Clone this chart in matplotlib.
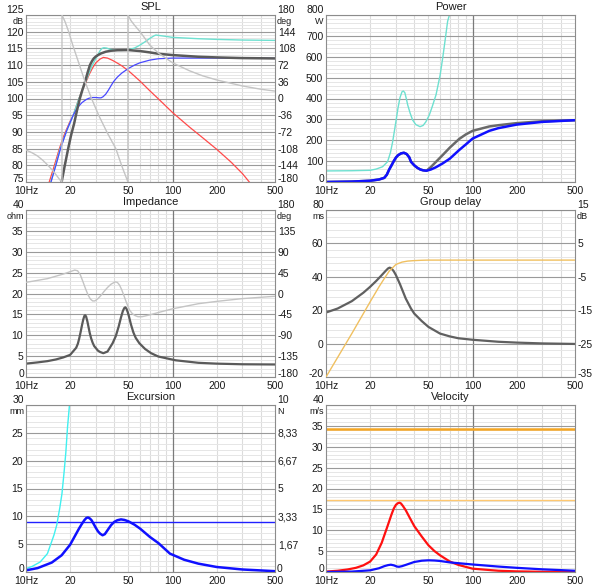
import numpy as np
import matplotlib.pyplot as plt

plt.rcParams['font.family'] = ['Liberation Sans', 'DejaVu Sans']
plt.rcParams['font.size'] = 7.5

# ------------------------------------------------------------
# DATA
# ------------------------------------------------------------

FREQ_TICKS = [10, 20, 50, 100, 200, 500]
FREQ_LABELS = ['10Hz', '20', '50', '100', '200', '500']

# SPL (dB)
spl_red_f = [14.4, 15.5, 16.9, 18, 19, 20, 21, 22, 23, 24, 25.7, 27, 28.5, 30, 32, 33.7,
             36, 39, 42, 45, 50, 55, 60, 70, 80, 100, 130, 160, 200, 250, 300, 334]
spl_red = [75, 79.5, 85, 88.5, 91, 93.2, 95, 97.6, 100, 102.2, 105, 107.2, 109.2, 110.7,
           111.8, 112.3, 112.1, 111.4, 110.6, 109.8, 108.3, 106.7, 105.2, 102.3, 99.9,
           95.8, 91.5, 88.3, 84.8, 81.0, 77.5, 75]

spl_cyan_f = [14.8, 17.1, 19, 21, 23, 25.5, 28, 30, 31, 32, 33, 34, 35.5, 37, 40, 45, 50,
              55, 60, 65, 70, 75, 77, 80, 90, 100, 150, 200, 300, 500]
spl_cyan = [75, 85, 90.5, 95, 100, 105, 109.5, 112, 113.2, 114.3, 115, 115.2, 115.1, 114.8,
            114.5, 114.4, 114.6, 115.1, 116, 117, 118, 118.8, 119, 118.9, 118.6, 118.3,
            117.9, 117.7, 117.5, 117.4]

spl_blue_f = [14.8, 16, 17.2, 19, 21, 22, 23, 24, 25, 26, 27, 28.5, 30, 31.5, 32.5, 33.5,
              35, 36.5, 38, 39.5, 42, 45, 50, 55, 60, 70, 80, 100, 150, 200, 500]
spl_blue = [75, 80, 85, 90.5, 95, 96.6, 97.8, 98.7, 99.3, 99.8, 100.1, 100.3, 100.3, 100.2,
            100.2, 100.5, 101.3, 102.5, 103.8, 105, 106.4, 107.6, 109, 110, 110.7, 111.5,
            111.9, 112.1, 112.1, 112.1, 112]

spl_gray_f = [17.5, 18.4, 19.4, 20.3, 21.3, 22.3, 23.3, 24.3, 25.3, 26.3, 27.3, 28.2, 29,
              30, 31, 32.5, 35, 38, 42, 50, 60, 70, 80, 100, 150, 200, 300, 500]
spl_gray = [75, 80, 85, 89, 92.5, 96.5, 100, 102.7, 105, 107.7, 110, 111.2, 112, 112.6,
            113, 113.5, 114, 114.3, 114.45, 114.5, 114.2, 113.8, 113.4, 113, 112.5, 112.3,
            112.1, 112]

# SPL phase (deg, right axis); the wraps are vertical jumps
spl_phase_f = [10, 11, 12, 13, 14, 15, 16, 17, 17.6, 17.6, 18.5, 19.5, 21, 23, 25.3, 28,
               31.3, 36, 41, 45, 49.6, 49.6, 52, 55, 60, 70, 80, 100, 130, 160, 200, 300,
               400, 500]
spl_phase = [-111, -117, -124, -133, -143, -153, -164, -175, -180, 180, 165, 145, 112, 75,
             36, 0, -36, -75, -108, -145, -180, 180, 168, 158, 144, 115, 98, 77, 60, 49,
             40, 27, 20, 16]

# Power (W)
pow_cyan_f = [10, 15, 20, 22, 24.3, 26.3, 27.5, 28.5, 29.3, 30, 31, 32, 33, 33.7, 34.5,
              35.3, 36.1, 37.5, 39, 41, 43.8, 46, 48, 50.7, 53, 56.3, 60, 62.5, 65, 67.6,
              69.5]
pow_cyan = [53, 54, 56, 62, 73, 97, 140, 193, 245, 290, 355, 405, 432, 436, 428, 400, 369,
            330, 297, 275, 265, 271, 288, 321, 360, 417, 510, 592, 680, 770, 800]

pow_gray_f = [10, 15, 20, 23, 25, 26, 27, 28, 29, 30, 31, 32.5, 34, 35.5, 37, 38, 40, 42,
              44, 46, 48.5, 52, 56, 62.5, 70, 81, 90, 100, 130, 150, 200, 300, 500]
pow_gray = [0, 2, 6, 12, 20, 35, 60, 80, 100, 117, 128, 137, 140, 134, 118, 97, 80, 68,
            60, 56, 54, 72, 95, 129, 165, 206, 228, 245, 266, 272, 282, 291, 296]

pow_blue_f = [10, 15, 20, 23, 25, 26, 27, 28, 29, 30, 31, 32.5, 34, 35.5, 37, 38, 40, 42,
              44, 46, 48.5, 52, 56, 62.5, 70, 81, 90, 100, 130, 150, 200, 300, 500]
pow_blue = [0, 2, 6, 12, 20, 35, 60, 80, 100, 117, 128, 137, 140, 134, 118, 97, 80, 68,
            60, 56, 54, 60, 70, 89, 112, 153, 180, 208, 245, 258, 275, 288, 296]

# Impedance (ohm) and phase (deg)
imp_f = [10, 12, 14, 16, 18, 20, 22, 22.6, 23.1, 23.6, 24.1, 24.6, 25.0, 25.3, 25.7, 26.2,
         26.7, 27.2, 27.8, 28.5, 29.2, 30, 31, 32, 33.7, 36, 39, 41, 42.9, 44.5, 45.8,
         46.8, 47.6, 48.4, 49.5, 50.5, 52, 54, 56, 59.3, 65, 71.4, 80, 105, 150, 200, 300,
         500]
imp_mag = [3.2, 3.5, 3.8, 4.2, 4.7, 5.3, 7.0, 8.0, 9.3, 10.8, 12.4, 13.8, 14.6, 14.8, 14.5,
           13.4, 12.0, 10.6, 9.3, 8.2, 7.4, 6.9, 6.3, 6.0, 5.7, 6.1, 8.1, 9.8, 12.1, 14.3,
           15.8, 16.5, 16.7, 16.4, 15.5, 14.4, 12.6, 10.7, 9.4, 8.1, 6.7, 5.7, 4.9, 4.0,
           3.4, 3.2, 3.05, 3.0]

imp_ph_f = [10, 14, 18, 20, 21.5, 22.5, 23.5, 24.5, 25.5, 26.5, 27.5, 28.5, 29.5, 31, 32.5,
            34, 36, 38, 40.5, 42, 43.5, 45, 46.5, 48, 49.5, 51, 53, 55, 58, 62, 70, 80, 100,
            150, 200, 300, 500]
imp_ph = [24, 32, 42, 47, 50.5, 49, 40, 25, 10, -3, -12, -16, -16, -11, -4, 4, 13, 20, 25,
          24, 18, 8, -4, -16, -27, -36, -43, -47, -50, -50, -46, -41, -33, -22, -17, -11,
          -6]

# Group delay (ms) and response (dB)
gd_f = [10, 12, 15, 18, 20, 22, 24, 25.5, 26.5, 27.2, 28, 29, 30, 32, 35, 38, 40, 45, 50,
        60, 70, 80, 100, 150, 200, 300, 500]
gd_ms = [18.6, 21, 25.4, 30.5, 34, 37.5, 41, 43.5, 45, 45.5, 45, 43.3, 41, 35.5, 27, 21,
         18, 13.5, 10, 6, 4.3, 3.2, 2.3, 1.1, 0.6, 0.1, -0.2]

resp_f = [10, 15, 20, 23, 25, 27, 30, 33, 36, 40, 45, 50, 70, 100, 500]
resp_db = [-35, -22, -12.5, -8, -5.5, -3.3, -1.3, -0.6, -0.3, -0.15, -0.05, 0, 0, 0, 0]

# Excursion (mm)
exc_blue_f = [10, 12, 15, 17.5, 20, 23, 24, 25, 25.8, 26.5, 27.3, 28, 29, 30, 31, 32,
              33.3, 34.5, 36, 38, 40, 42, 44.5, 47, 50, 55, 60, 70, 80, 96, 120, 150, 200,
              300, 500]
exc_blue = [0.3, 0.7, 1.7, 3.0, 4.9, 7.8, 8.6, 9.3, 9.7, 9.8, 9.6, 9.3, 8.6, 7.9, 7.3, 6.9,
            6.6, 6.8, 7.5, 8.4, 9.0, 9.3, 9.45, 9.35, 9.1, 8.5, 7.8, 6.3, 5.2, 3.3, 2.2,
            1.5, 0.9, 0.45, 0.15]

exc_cyan_f = [10, 11, 12.5, 14, 14.8, 15.5, 16.2, 17, 17.6, 18.2, 18.7, 19.2, 19.8]
exc_cyan = [0.6, 1.0, 1.8, 3.3, 5.1, 6.6, 8.4, 11.5, 14.1, 18, 21.5, 26, 30]

xmax_mm = 8.9

# Velocity (m/s)
vel_red_f = [10, 12, 14, 16, 18, 20, 22, 24, 26, 28, 29, 30, 31, 31.8, 32.5, 33.5, 35, 37,
             40, 45, 50, 55, 60, 70, 80, 100, 150, 200, 300, 500]
vel_red = [0.1, 0.3, 0.6, 1.0, 1.6, 2.5, 4.2, 7.0, 10.5, 13.8, 15.2, 16.1, 16.5, 16.6,
           16.4, 15.8, 14.8, 13.2, 11.0, 8.5, 6.4, 5.0, 4.0, 2.5, 1.7, 0.8, 0.3, 0.15,
           0.05, 0.02]

vel_blue_f = [10, 15, 20, 23, 25, 26.5, 27.7, 29, 30.5, 31.5, 33, 35, 40, 45, 50, 55, 60,
              70, 100, 150, 200, 300, 500]
vel_blue = [0.0, 0.1, 0.4, 0.9, 1.4, 1.65, 1.75, 1.6, 1.3, 1.25, 1.4, 1.7, 2.4, 2.7, 2.8,
            2.75, 2.64, 2.3, 1.8, 1.3, 1.0, 0.64, 0.3]

vel_limit_hi = 34.2
vel_limit_lo = 17.2


# ------------------------------------------------------------
# LAYOUT HELPERS
# ------------------------------------------------------------

W, H = 600, 587
COL_X = [26, 326]
ROW_Y = [15, 210, 405]
AX_W, AX_H = 249, 167
TEXT_C = '#1a1a1a'
MINOR_F = [20, 30, 40, 50, 60, 70, 80, 90, 200, 300, 400]

fig = plt.figure(figsize=(W / 100, H / 100), dpi=100, facecolor='white')


def make_axes(col, row, title):
    rect = [COL_X[col] / W, 1 - (ROW_Y[row] + AX_H) / H, AX_W / W, AX_H / H]
    ax = fig.add_axes(rect)
    fig.text((COL_X[col] + AX_W / 2) / W, 1 - (ROW_Y[row] - 8) / H, title,
             ha='center', va='center', color=TEXT_C, fontsize=8)
    return ax


def end_labels(ax, side, bottom_text, top_text, unit):
    # end values are nudged so they clear the unit and the Hz labels
    x, sx, ha = (0, -1.5, 'right') if side == 'left' else (1, 1.5, 'left')
    kw = dict(xycoords='axes fraction', textcoords='offset points', ha=ha,
              va='center', color=TEXT_C)
    ax.annotate(top_text, xy=(x, 1), xytext=(sx, 3.6), fontsize=7.5, **kw)
    ax.annotate(unit, xy=(x, 1), xytext=(sx, -4.4), fontsize=6.5, **kw)
    ax.annotate(bottom_text, xy=(x, 0), xytext=(sx, 2), fontsize=7.5, **kw)


def style(ax, ylim, step, unit, ticklabels=None):
    ax.set_xscale('log')
    ax.set_xlim(10, 500)
    ax.set_ylim(*ylim)
    for f in MINOR_F:
        ax.axvline(f, color='#dcdcdc', lw=0.8, zorder=0)
    ax.axvline(100, color='#7a7a7a', lw=0.9, zorder=0.5)
    for y in np.arange(ylim[0], ylim[1], step / 5):
        ax.axhline(y, color='#e6e6e6', lw=0.7, zorder=0)
    majors = np.arange(ylim[0], ylim[1] + step / 2, step)
    for y in majors:
        ax.axhline(y, color='#9a9a9a', lw=0.8, zorder=0.5)
    ax.set_xticks(FREQ_TICKS)
    ax.set_xticklabels(FREQ_LABELS)
    ax.xaxis.set_minor_locator(plt.NullLocator())
    ax.set_yticks(majors)
    if ticklabels is None:
        ticklabels = [f'{v:g}' for v in majors]
    ax.set_yticklabels([''] + ticklabels[1:-1] + [''])
    ax.tick_params(length=0, pad=2, colors=TEXT_C, labelsize=7.5)
    ax.tick_params(axis='x', pad=2.8)
    for s in ax.spines.values():
        s.set_color('#8c8c8c')
        s.set_linewidth(0.8)
    end_labels(ax, 'left', ticklabels[0], ticklabels[-1], unit)


def right_axis(ax, ylim, ticks, labels, unit):
    tw = ax.twinx()
    tw.set_ylim(*ylim)
    tw.set_yticks(ticks)
    tw.set_yticklabels([''] + list(labels[1:-1]) + [''])
    tw.tick_params(length=0, pad=2, colors=TEXT_C, labelsize=7.5)
    for s in tw.spines.values():
        s.set_visible(False)
    end_labels(tw, 'right', labels[0], labels[-1], unit)
    return tw


# ------------------------------------------------------------
# SPL
# ------------------------------------------------------------
ax = make_axes(0, 0, 'SPL')
style(ax, (75, 125), 5, 'dB')
deg = np.arange(-180, 181, 36)
tw = right_axis(ax, (-180, 180), deg, [str(v) for v in deg], 'deg')
ax.plot(spl_red_f, spl_red, color='#ff4a4a', lw=0.9)
ax.plot(spl_cyan_f, spl_cyan, color='#6ee0d0', lw=1.0)
ax.plot(spl_blue_f, spl_blue, color='#4848ff', lw=0.9)
ax.plot(spl_gray_f, spl_gray, color='#5a5a5a', lw=1.8)
tw.plot(spl_phase_f, spl_phase, color='#c4c4c4', lw=1.0)

# ------------------------------------------------------------
# Power
# ------------------------------------------------------------
ax = make_axes(1, 0, 'Power')
style(ax, (0, 800), 100, 'W')
ax.plot(pow_cyan_f, pow_cyan, color='#6ee0d0', lw=1.0)
ax.plot(pow_gray_f, pow_gray, color='#6a6a6a', lw=1.8)
ax.plot(pow_blue_f, pow_blue, color='#1010ff', lw=1.8)

# ------------------------------------------------------------
# Impedance
# ------------------------------------------------------------
ax = make_axes(0, 1, 'Impedance')
style(ax, (0, 40), 5, 'ohm')
deg = np.arange(-180, 181, 45)
tw = right_axis(ax, (-180, 180), deg, [str(v) for v in deg], 'deg')
ax.plot(imp_f, imp_mag, color='#5a5a5a', lw=1.6)
tw.plot(imp_ph_f, imp_ph, color='#c4c4c4', lw=1.0)

# ------------------------------------------------------------
# Group delay
# ------------------------------------------------------------
ax = make_axes(1, 1, 'Group delay')
style(ax, (-20, 80), 20, 'ms')
db = np.arange(-35, 16, 10)
tw = right_axis(ax, (-35, 15), db, [str(v) for v in db], 'dB')
ax.plot(gd_f, gd_ms, color='#606060', lw=1.6)
tw.plot(resp_f, resp_db, color='#f0c060', lw=1.0)

# ------------------------------------------------------------
# Excursion
# ------------------------------------------------------------
ax = make_axes(0, 2, 'Excursion')
style(ax, (0, 30), 5, 'mm')
n_ticks = np.linspace(0, 10, 7)
tw = right_axis(ax, (0, 10), n_ticks,
                ['0', '1,67', '3,33', '5', '6,67', '8,33', '10'], 'N')
ax.axhline(xmax_mm, color='#2020ff', lw=1.0, zorder=2)
ax.plot(exc_cyan_f, exc_cyan, color='#40f0f0', lw=1.0)
ax.plot(exc_blue_f, exc_blue, color='#1010ff', lw=1.8)

# ------------------------------------------------------------
# Velocity
# ------------------------------------------------------------
ax = make_axes(1, 2, 'Velocity')
style(ax, (0, 40), 5, 'm/s')
ax.axhline(vel_limit_hi, color='#f5a623', lw=1.8, zorder=2)
ax.axhline(vel_limit_lo, color='#ffc870', lw=1.0, zorder=2)
ax.plot(vel_red_f, vel_red, color='#ff1010', lw=1.6)
ax.plot(vel_blue_f, vel_blue, color='#1010ff', lw=1.6)

fig.savefig('out.png', dpi=100, facecolor='white')
